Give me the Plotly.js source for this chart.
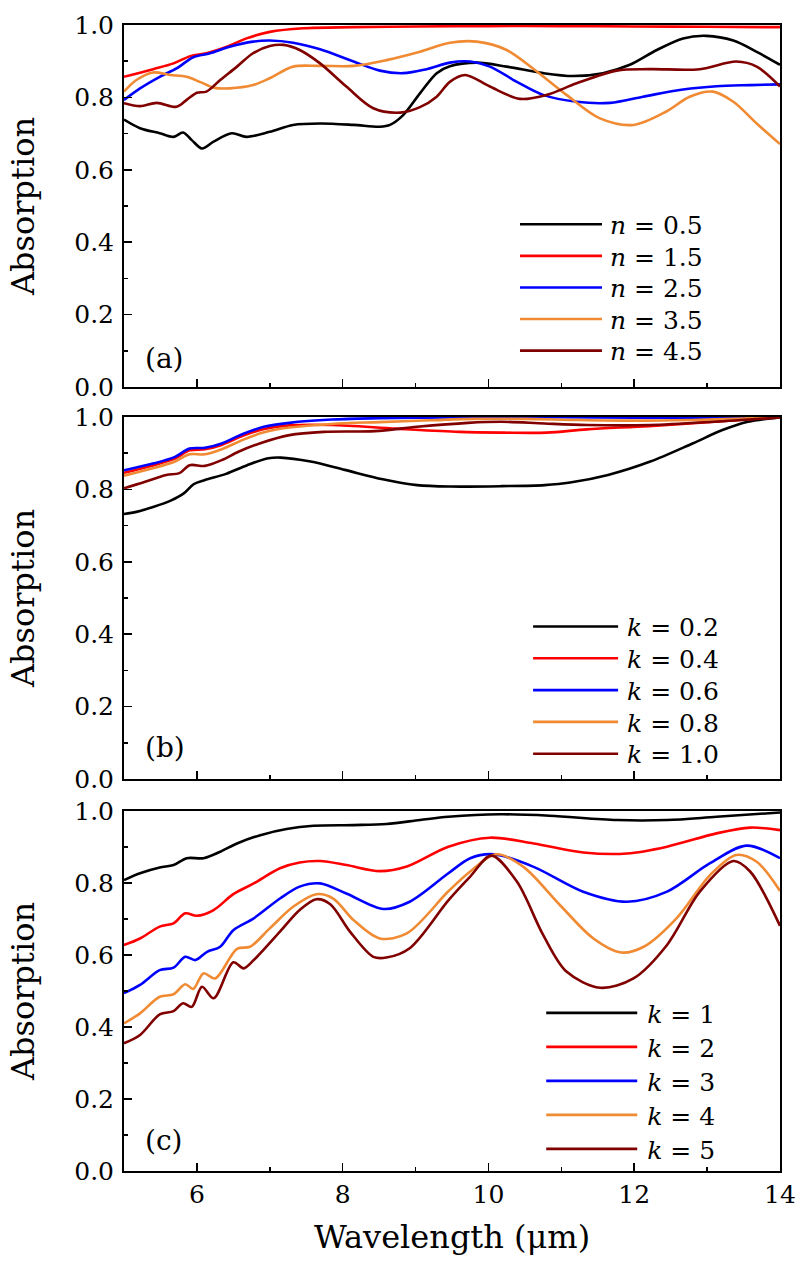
<!DOCTYPE html>
<html>
<head>
<meta charset="utf-8">
<script src="https://cdn.plot.ly/plotly-3.0.1.min.js"></script>
<style>
html,body{margin:0;padding:0;background:#fff;}
#chart{width:803px;height:1262px;}
</style>
</head>
<body>
<div id="chart"></div>
<script>
// ---------- Panel (a): refractive index n ----------
const a_names = ["<i>n</i> = 0.5", "<i>n</i> = 1.5", "<i>n</i> = 2.5", "<i>n</i> = 3.5", "<i>n</i> = 4.5"];
const a_n05_x = [5.0,5.22,5.49,5.68,5.81,5.93,6.07,6.23,6.48,6.68,7.0,7.32,7.69,8.15,8.51,8.65,8.83,9.06,9.29,9.47,9.84,10.25,10.75,11.16,11.57,11.94,12.31,12.67,12.99,13.36,13.68,14.0];
const a_n05_y = [0.739,0.715,0.701,0.691,0.703,0.682,0.659,0.678,0.701,0.691,0.705,0.724,0.728,0.724,0.719,0.724,0.751,0.811,0.867,0.886,0.896,0.885,0.867,0.859,0.867,0.890,0.931,0.963,0.970,0.957,0.926,0.890];
const a_n15_x = [5.0,5.4,5.68,5.91,6.13,6.41,6.68,7.0,7.46,8.15,9.0,10.0,11.0,12.0,13.0,14.0];
const a_n15_y = [0.857,0.878,0.894,0.914,0.922,0.940,0.963,0.981,0.991,0.994,0.996,0.997,0.997,0.996,0.995,0.994];
const a_n25_x = [5.0,5.22,5.49,5.72,5.95,6.18,6.45,6.77,7.0,7.32,7.69,8.15,8.51,8.83,9.15,9.47,9.75,10.02,10.39,10.75,11.21,11.67,12.12,12.67,13.13,13.59,14.0];
const a_n25_y = [0.793,0.825,0.857,0.880,0.911,0.922,0.940,0.954,0.957,0.951,0.933,0.899,0.874,0.867,0.878,0.896,0.899,0.885,0.843,0.807,0.788,0.785,0.802,0.822,0.831,0.834,0.836];
const a_n35_x = [5.0,5.17,5.40,5.63,5.86,6.04,6.23,6.45,6.77,7.0,7.32,7.69,8.15,8.60,9.06,9.47,9.84,10.25,10.61,11.07,11.53,11.99,12.44,12.76,13.08,13.36,13.68,14.0];
const a_n35_y = [0.816,0.848,0.869,0.862,0.857,0.843,0.827,0.825,0.834,0.853,0.885,0.887,0.887,0.903,0.926,0.951,0.954,0.931,0.880,0.807,0.742,0.724,0.761,0.802,0.816,0.788,0.728,0.671];
const a_n45_x = [5.0,5.22,5.45,5.72,5.86,6.0,6.13,6.32,6.55,6.77,7.0,7.19,7.41,7.69,8.05,8.42,8.79,9.06,9.29,9.47,9.68,10.02,10.43,10.80,11.21,11.76,12.21,12.90,13.40,13.68,14.0];
const a_n45_y = [0.784,0.776,0.785,0.774,0.793,0.813,0.816,0.848,0.885,0.922,0.942,0.945,0.931,0.894,0.830,0.770,0.758,0.773,0.802,0.843,0.862,0.830,0.796,0.807,0.839,0.874,0.878,0.878,0.899,0.885,0.830];

// ---------- Panel (b): extinction k (small) ----------
const b_names = ["<i>k</i> = 0.2", "<i>k</i> = 0.4", "<i>k</i> = 0.6", "<i>k</i> = 0.8", "<i>k</i> = 1.0"];
const b_k02_x = [5.0,5.17,5.41,5.64,5.82,5.96,6.11,6.40,6.69,6.98,7.15,7.56,8.03,8.55,9.02,9.48,10.18,10.77,11.12,11.64,12.22,12.80,13.21,13.56,14.0];
const b_k02_y = [0.732,0.738,0.752,0.769,0.789,0.815,0.826,0.843,0.867,0.886,0.888,0.877,0.854,0.828,0.812,0.808,0.809,0.812,0.819,0.840,0.877,0.927,0.964,0.987,0.999];
const b_k04_x = [5.0,5.41,5.70,5.90,6.11,6.34,6.63,6.92,7.27,7.85,8.73,9.6,10.2,10.8,11.35,12.2,13.1,14.0];
const b_k04_y = [0.846,0.867,0.885,0.908,0.911,0.923,0.948,0.967,0.977,0.978,0.968,0.959,0.957,0.957,0.966,0.975,0.987,1.0];
const b_k06_x = [5.0,5.41,5.70,5.90,6.11,6.34,6.63,6.92,7.27,7.85,8.5,9.5,10.5,11.5,12.5,13.5,14.0];
const b_k06_y = [0.853,0.872,0.890,0.913,0.915,0.927,0.953,0.973,0.984,0.993,0.997,0.999,1.0,0.999,0.998,0.998,1.0];
const b_k08_x = [5.0,5.41,5.70,5.90,6.11,6.34,6.63,6.92,7.27,7.85,8.5,9.2,9.8,10.5,11.2,12.0,12.8,13.5,14.0];
const b_k08_y = [0.838,0.859,0.877,0.897,0.897,0.911,0.937,0.958,0.971,0.981,0.986,0.991,0.995,0.995,0.992,0.990,0.992,0.996,1.0];
const b_k10_x = [5.0,5.29,5.58,5.76,5.90,6.11,6.34,6.57,6.86,7.27,7.74,8.44,9.02,9.72,10.18,10.77,11.35,12.22,13.1,14.0];
const b_k10_y = [0.803,0.821,0.840,0.845,0.867,0.865,0.881,0.904,0.927,0.950,0.959,0.961,0.973,0.984,0.987,0.982,0.978,0.978,0.987,0.999];

// ---------- Panel (c): extinction k (large) ----------
const c_names = ["<i>k</i> = 1", "<i>k</i> = 2", "<i>k</i> = 3", "<i>k</i> = 4", "<i>k</i> = 5"];
const c_k1_x = [5.0,5.22,5.49,5.68,5.86,6.09,6.32,6.55,6.87,7.23,7.60,8.15,8.60,9.06,9.45,10.16,10.84,11.76,12.45,13.13,14.0];
const c_k1_y = [0.808,0.827,0.843,0.850,0.869,0.869,0.887,0.910,0.933,0.950,0.959,0.961,0.964,0.975,0.984,0.991,0.987,0.975,0.975,0.984,0.996];
const c_k2_x = [5.0,5.22,5.49,5.68,5.84,6.0,6.23,6.50,6.78,7.14,7.41,7.69,8.05,8.51,8.88,9.45,10.02,10.62,11.30,11.90,12.45,13.13,13.59,14.0];
const c_k2_y = [0.628,0.646,0.679,0.688,0.716,0.709,0.725,0.769,0.799,0.841,0.857,0.861,0.850,0.833,0.846,0.901,0.926,0.910,0.885,0.882,0.901,0.938,0.954,0.947];
const c_k3_x = [5.0,5.22,5.49,5.68,5.84,5.98,6.14,6.32,6.50,6.78,7.14,7.41,7.69,8.05,8.56,8.92,9.45,9.75,10.07,10.62,11.30,11.90,12.45,13.04,13.54,14.0];
const c_k3_y = [0.494,0.517,0.558,0.565,0.595,0.586,0.609,0.623,0.669,0.702,0.757,0.790,0.799,0.771,0.728,0.748,0.827,0.869,0.880,0.845,0.776,0.748,0.776,0.855,0.904,0.869];
const c_k4_x = [5.0,5.22,5.49,5.68,5.84,5.95,6.09,6.25,6.55,6.73,7.0,7.32,7.64,7.87,8.15,8.51,8.88,9.45,9.75,10.11,10.48,10.98,11.44,11.82,12.13,12.58,13.04,13.40,13.68,14.0];
const c_k4_y = [0.410,0.438,0.484,0.491,0.519,0.506,0.549,0.535,0.617,0.623,0.674,0.734,0.769,0.757,0.697,0.646,0.660,0.777,0.832,0.880,0.845,0.739,0.646,0.607,0.623,0.702,0.822,0.878,0.859,0.778];
const c_k5_x = [5.0,5.22,5.49,5.68,5.81,5.93,6.07,6.23,6.50,6.64,6.78,7.14,7.41,7.64,7.83,8.10,8.42,8.60,8.92,9.45,9.75,10.04,10.39,10.75,11.07,11.53,11.99,12.45,12.90,13.36,13.59,14.0];
const c_k5_y = [0.355,0.378,0.435,0.444,0.466,0.456,0.512,0.480,0.580,0.563,0.586,0.665,0.725,0.755,0.741,0.665,0.595,0.593,0.619,0.752,0.818,0.876,0.804,0.656,0.554,0.509,0.535,0.628,0.776,0.861,0.832,0.681];

const colors = ["#000000", "#ff0000", "#0000ff", "#f08a33", "#800000"];
const panelTags = ["(a)", "(b)", "(c)"];

const FONT = "DejaVu Serif, Liberation Serif, serif";

const panels = [
  {names: a_names, xs: [a_n05_x,a_n15_x,a_n25_x,a_n35_x,a_n45_x], ys: [a_n05_y,a_n15_y,a_n25_y,a_n35_y,a_n45_y], xa: "x", ya: "y", leg: "legend"},
  {names: b_names, xs: [b_k02_x,b_k04_x,b_k06_x,b_k08_x,b_k10_x], ys: [b_k02_y,b_k04_y,b_k06_y,b_k08_y,b_k10_y], xa: "x2", ya: "y2", leg: "legend2"},
  {names: c_names, xs: [c_k1_x,c_k2_x,c_k3_x,c_k4_x,c_k5_x], ys: [c_k1_y,c_k2_y,c_k3_y,c_k4_y,c_k5_y], xa: "x3", ya: "y3", leg: "legend3"}
];

const traces = [];
panels.forEach(p => {
  p.names.forEach((nm, i) => {
    traces.push({
      type: "scatter", mode: "lines",
      x: p.xs[i], y: p.ys[i], name: nm,
      xaxis: p.xa, yaxis: p.ya, legend: p.leg,
      line: {color: colors[i], width: 2.6, shape: "spline", smoothing: 0.9}
    });
  });
});

function xax(anchor, labels) {
  const ax = {
    anchor: anchor, domain: [0, 1], range: [5, 14], dtick: 2, tick0: 0,
    showline: true, linecolor: "#000", linewidth: 2, mirror: true,
    ticks: "inside", ticklen: 8, tickwidth: 1.5, tickcolor: "#000",
    minor: {dtick: 1, tick0: 0, ticks: "inside", ticklen: 4, tickwidth: 1.5, tickcolor: "#000"},
    showgrid: false, zeroline: false, showticklabels: labels,
    tickfont: {family: FONT, size: 25, color: "#000"}, ticklabelstandoff: 0
  };
  if (labels) {
    ax.title = {text: "Wavelength (μm)", font: {family: FONT, size: 32, color: "#000"}, standoff: 18};
  }
  return ax;
}
function yax(anchor, domain) {
  return {
    anchor: anchor, domain: domain, range: [0, 1], dtick: 0.2, tick0: 0, tickformat: ".1f",
    showline: true, linecolor: "#000", linewidth: 2, mirror: true,
    ticks: "inside", ticklen: 8, tickwidth: 1.5, tickcolor: "#000",
    minor: {dtick: 0.1, tick0: 0, ticks: "inside", ticklen: 4, tickwidth: 1.5, tickcolor: "#000"},
    showgrid: false, zeroline: false,
    tickfont: {family: FONT, size: 25, color: "#000"}, ticklabelstandoff: 3,
    title: {text: "Absorption", font: {family: FONT, size: 32, color: "#000"}, standoff: 30}
  };
}
function leg(x, y, w) {
  return {x: x, y: y, xanchor: "left", yanchor: "top", xref: "paper", yref: "paper",
    bgcolor: "rgba(0,0,0,0)", borderwidth: 0, itemwidth: w, tracegroupgap: 0,
    font: {family: FONT, size: 25, color: "#000"}};
}

const layout = {
  width: 803, height: 1262,
  margin: {l: 124, r: 23, t: 25, b: 91},
  paper_bgcolor: "#fff", plot_bgcolor: "#fff",
  font: {family: FONT, color: "#000"},
  xaxis: xax("y", false),
  xaxis2: xax("y2", false),
  xaxis3: xax("y3", true),
  yaxis: yax("x", [0.6841, 1]),
  yaxis2: yax("x2", [0.3421, 0.6579]),
  yaxis3: yax("x3", [0, 0.3141]),
  legend: leg(0.596, 0.846, 85),
  legend2: leg(0.616, 0.495, 89),
  legend3: leg(0.636, 0.1578, 96),
  annotations: [
    {text: panelTags[0], xref: "x", yref: "y", x: 5.26, y: 0.08, xanchor: "left", yanchor: "middle", showarrow: false, font: {family: FONT, size: 28, color: "#000"}},
    {text: panelTags[1], xref: "x2", yref: "y2", x: 5.26, y: 0.088, xanchor: "left", yanchor: "middle", showarrow: false, font: {family: FONT, size: 28, color: "#000"}},
    {text: panelTags[2], xref: "x3", yref: "y3", x: 5.26, y: 0.086, xanchor: "left", yanchor: "middle", showarrow: false, font: {family: FONT, size: 28, color: "#000"}}
  ],
  showlegend: true
};

// legend id -> [sample-line length, row pitch]
const legendLook = {legend: [82, 31.6], legend2: [85, 31.8], legend3: [91, 34]};

Plotly.newPlot("chart", traces, layout, {displayModeBar: false, staticPlot: true}).then(gd => {
  Object.keys(legendLook).forEach(id => {
    const g = gd.querySelector(".infolayer g." + id);
    if (!g) return;
    const [len, pitch] = legendLook[id];
    let y0 = null;
    g.querySelectorAll("g.traces").forEach((it, i) => {
      const t = it.getAttribute("transform") || "";
      const m = t.match(/translate\(\s*([-\d.e]+)[\s,]+([-\d.e]+)\s*\)/);
      if (m) {
        if (y0 === null) y0 = parseFloat(m[2]);
        it.setAttribute("transform", "translate(" + m[1] + "," + (y0 + i * pitch) + ")");
      }
      it.querySelectorAll(".js-line").forEach(p => p.setAttribute("d", "M5,0h" + len));
    });
  });
});
</script>
</body>
</html>
